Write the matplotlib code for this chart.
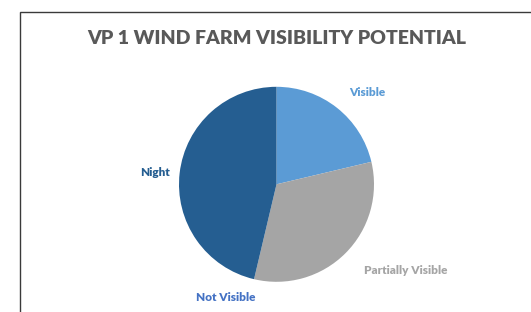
import matplotlib
matplotlib.use('Agg')
import matplotlib.pyplot as plt
from matplotlib.patches import Rectangle

plt.rcParams['font.family'] = ['Lato', 'DejaVu Sans']

categories = ['Visible', 'Partially Visible', 'Not Visible', 'Night']
shares = [21.3, 32.4, 0.0, 46.3]
colors = ['#5B9BD5', '#A5A5A5', '#4472C4', '#255E91']
label_colors = ['#5B9BD5', '#A5A5A5', '#4472C4', '#255E91']
# label positions in pie-radius units (centre = 0, 0)
label_pos = [(0.93, 0.94), (1.33, -0.88), (-0.52, -1.16), (-1.25, 0.12)]

fig = plt.figure(figsize=(5.31, 3.12), dpi=100)
fig.patch.set_facecolor('white')

# chart frame (runs off the right and bottom edges)
fig.patches.append(Rectangle((20 / 531, -0.2), 1.2, 1 - 12 / 312 + 0.2,
                             transform=fig.transFigure, fill=False,
                             edgecolor='#3a3a3a', linewidth=1.0))

ax = fig.add_axes([0, 0, 1, 1])
r = 97.5
cx, cy = 276.5, 184.3
ax.pie(shares, colors=colors, startangle=90, counterclock=False,
       radius=1.0, wedgeprops={'linewidth': 0})
ax.set_xlim(-cx / r, (531 - cx) / r)
ax.set_ylim(-(312 - cy) / r, cy / r)
ax.set_aspect('equal')
ax.axis('off')

for name, (lx, ly), c in zip(categories, label_pos, label_colors):
    ax.text(lx, ly, name, color=c, fontsize=8.5, fontweight='heavy',
            ha='center', va='center')

fig.text(277 / 531, 1 - 38 / 312, 'VP 1 WIND FARM VISIBILITY POTENTIAL',
         ha='center', va='center', fontsize=14, fontweight='heavy',
         color='#595959')

fig.savefig('out.png', dpi=100)
